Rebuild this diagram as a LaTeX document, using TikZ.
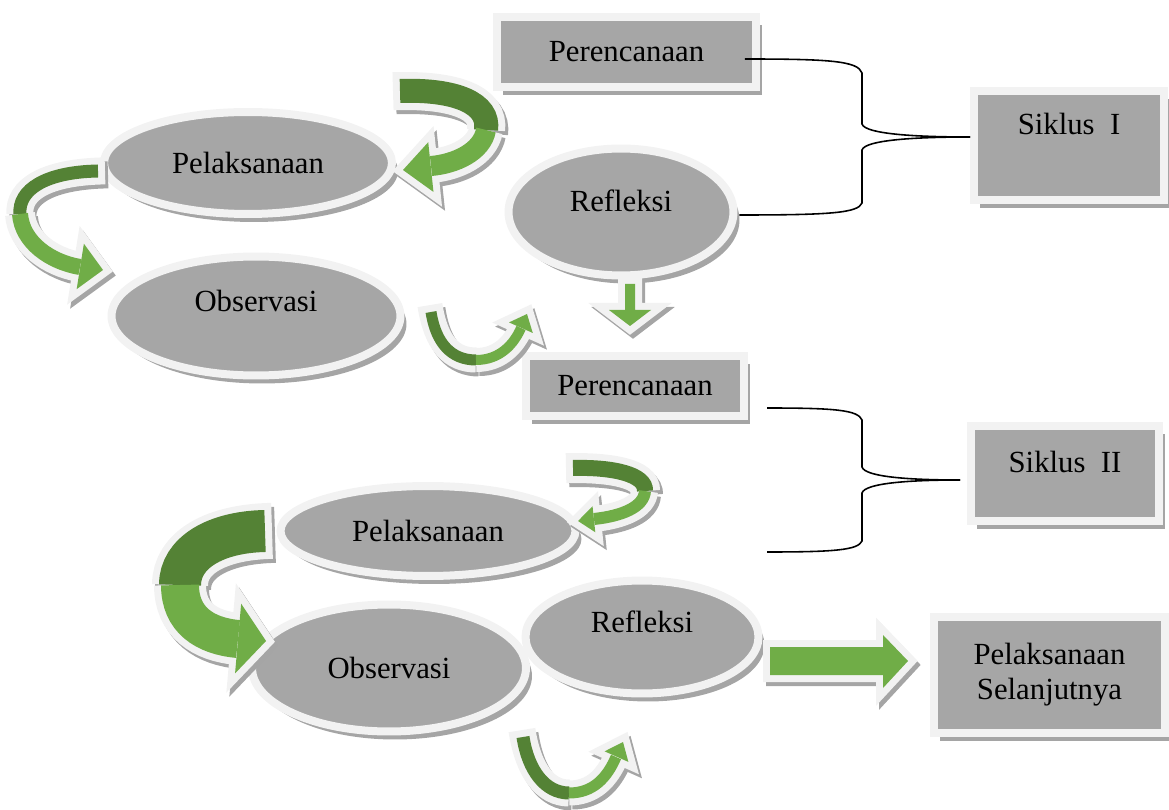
\documentclass[tikz,border=0pt]{standalone}
\usepackage{fontspec}
\setmainfont{Liberation Serif}
\usetikzlibrary{shapes.geometric,shadows}

\definecolor{panelgray}{HTML}{A6A6A6}
\definecolor{rimwhite}{HTML}{F2F2F2}
\definecolor{leafdark}{HTML}{548235}
\definecolor{leaflight}{HTML}{70AD47}
\definecolor{shadegray}{HTML}{A5A5A5}

\newcommand\stagefont{\fontsize{17.5}{20}\selectfont}
% arrow head: tip, direction, length, half width
\newcommand\headpath[4]{[shift={#1}, rotate=#2] (0,0) -- (-#3,#4) -- (-#3,-#4) -- cycle}

\tikzset{
  stage/.style={ellipse, fill=panelgray, draw=rimwhite, line width=0.16cm, inner sep=0pt, font=\stagefont,
    drop shadow={shadow xshift=0.12cm, shadow yshift=-0.16cm, fill=shadegray, opacity=1}},
  panel/.style={rectangle, fill=panelgray, draw=rimwhite, line width=0.16cm, inner sep=0pt, font=\stagefont,
    drop shadow={shadow xshift=0.12cm, shadow yshift=-0.16cm, fill=shadegray, opacity=1}},
  lift/.style={text height=0.24cm, text depth=#1},
  bracketline/.style={line width=0.9pt, black},
  rim pass/.style={
    darkband/.style={draw=#1, line width=(##1+14)*0.02cm, shorten <=-0.14cm},
    lightband/.style={draw=#1, line width=(##1+14)*0.02cm},
    headfill/.style={fill=#1, draw=#1, line width=0.28cm, line join=miter}},
  leaf pass/.style={
    darkband/.style={draw=leafdark, line width=##1*0.02cm},
    lightband/.style={draw=leaflight, line width=##1*0.02cm},
    headfill/.style={fill=leaflight}}
}

% the green ribbon arrows, drawn once per pass
\newcommand\leafribbons{%
  % siklus I: back to Pelaksanaan
  \path[darkband=24] (400,91) .. controls (455,89) and (490,103) .. (486,130);
  \path[lightband=20] (486,130) .. controls (482,152) and (455,164) .. (431,166);
  \path[headfill] \headpath{(403,170)}{186}{28}{25};
  % Pelaksanaan to Observasi
  \path[darkband=13] (98,171) .. controls (45,172) and (18,190) .. (20,214);
  \path[lightband=16] (20,214) .. controls (22,242) and (50,262) .. (80,267);
  \path[headfill] \headpath{(103,270)}{-9}{23}{23};
  % Observasi to Refleksi
  \path[darkband=11] (431,312) .. controls (436,344) and (452,360) .. (476,360);
  \path[lightband=10] (476,360) .. controls (500,360) and (514,344) .. (521,328);
  \path[headfill] \headpath{(527,314)}{66}{15}{13};
  % Refleksi down to Perencanaan
  \path[headfill] (625,284) -- (635,284) -- (635,310) -- (651,310) -- (630,326) -- (609,310) -- (625,310) -- cycle;
  % siklus II: back to Pelaksanaan
  \path[darkband=16] (573,468) .. controls (612,467) and (646,474) .. (645,491);
  \path[lightband=12] (645,491) .. controls (644,507) and (622,516) .. (594,519);
  \path[headfill] \headpath{(578,521)}{186}{16}{13};
  % Pelaksanaan to Observasi
  \path[darkband=42] (265,531) .. controls (215,532) and (180,553) .. (180,585);
  \path[lightband=38] (180,585) .. controls (180,620) and (205,636) .. (238,639);
  \path[headfill] \headpath{(266,641)}{-5}{28}{35};
  % Observasi to Refleksi
  \path[darkband=13] (523,737) .. controls (528,770) and (545,793) .. (569,793);
  \path[lightband=11] (569,793) .. controls (593,793) and (607,778) .. (616,757);
  \path[headfill] \headpath{(623,742)}{66}{16}{13};
  % Refleksi to Pelaksanaan Selanjutnya
  \path[headfill] (770,647) -- (883,647) -- (883,635) -- (908,661) -- (883,688) -- (883,675) -- (770,675) -- cycle;
}

\begin{document}
\begin{tikzpicture}[x=0.02cm, y=-0.02cm]
  \useasboundingbox (0,0) rectangle (1169,810);

  % siklus I
  \node [panel, minimum width=5.18cm, minimum height=1.4cm](plan1) at (626.5,52) {Perencanaan};
  \node [stage, minimum width=5.76cm, minimum height=2.04cm](act1) at (248,163) {Pelaksanaan};
  \node [stage, lift=0.4cm, minimum width=5.78cm, minimum height=2.38cm](obs1) at (256,316) {Observasi};
  \node [stage, lift=0.24cm, minimum width=4.5cm, minimum height=2.54cm](ref1) at (621,212) {Refleksi};
  \node [panel, lift=0.66cm, minimum width=3.8cm, minimum height=2.18cm](cyc1) at (1069,145.5) {Siklus\ \ I};

  % siklus II
  \node [panel, minimum width=4.36cm, minimum height=1.2cm](plan2) at (635,386) {Perencanaan};
  \node [stage, minimum width=5.9cm, minimum height=1.8cm](act2) at (428,531) {Pelaksanaan};
  \node [stage, lift=0.44cm, minimum width=4.66cm, minimum height=2.26cm](ref2) at (642,637) {Refleksi};
  \node [stage, minimum width=5.48cm, minimum height=2.54cm](obs2) at (389,668) {Observasi};
  \node [panel, lift=0.3cm, minimum width=3.76cm, minimum height=1.9cm](cyc2) at (1065,473.5) {Siklus\ \ II};
  \node [panel, align=center, minimum width=4.62cm, minimum height=2.32cm](next) at (1049.5,675) {Pelaksanaan\\Selanjutnya};

  % ribbons: shadow, white rim, green
  \begin{scope}[rim pass=shadegray, shift={(3,4)}]
    \leafribbons
  \end{scope}
  \begin{scope}[rim pass=rimwhite]
    \leafribbons
  \end{scope}
  \begin{scope}[leaf pass]
    \leafribbons
  \end{scope}

  % brackets to the cycle boxes
  \coordinate (b1top) at ([shift={(-15,7)}]plan1.east);
  \coordinate (b1low) at ([shift={(2,3)}]ref1.east);
  \coordinate (b1tip) at ([shift={(0,-8.5)}]cyc1.west);
  \coordinate (b2top) at (767,408);
  \coordinate (b2low) at (767,552);
  \coordinate (b2tip) at ([shift={(-7,6.5)}]cyc2.west);

  \draw[bracketline] (b1top) .. controls (830,59) and (858,61) .. (862,73) -- (862,124) .. controls (865,134) and (915,137) .. (b1tip);
  \draw[bracketline] (b1low) .. controls (830,215) and (858,213) .. (862,203) -- (862,150) .. controls (865,140) and (915,137) .. (b1tip);
  \draw[bracketline] (b2top) .. controls (835,408) and (858,410) .. (862,420) -- (862,467) .. controls (865,477) and (910,480) .. (b2tip);
  \draw[bracketline] (b2low) .. controls (835,552) and (858,550) .. (862,541) -- (862,493) .. controls (865,483) and (910,480) .. (b2tip);
\end{tikzpicture}
\end{document}
